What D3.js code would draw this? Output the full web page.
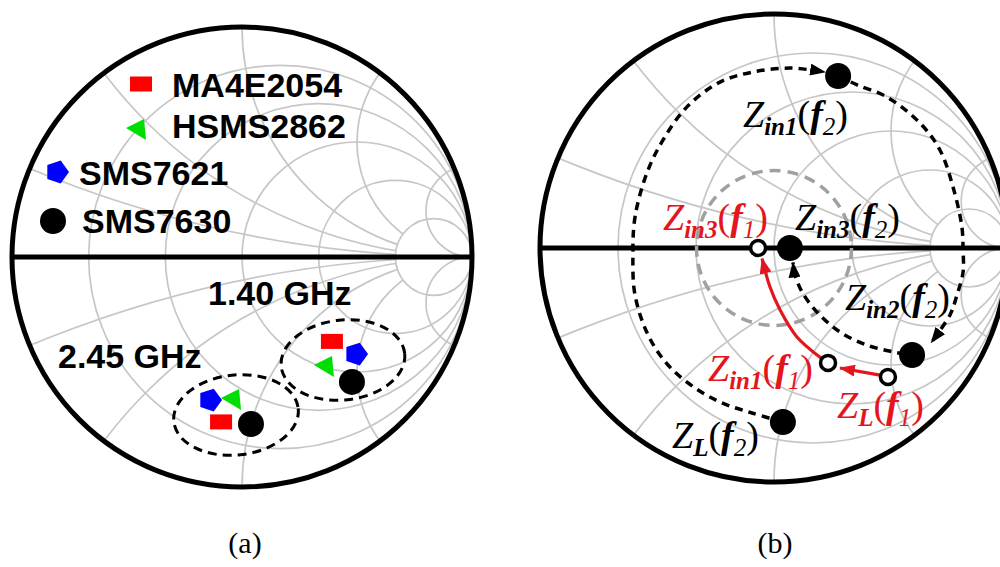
<!DOCTYPE html>
<html>
<head>
<meta charset="utf-8">
<script src="https://cdn.jsdelivr.net/npm/d3@7"></script>
<style>
  body { margin: 0; background: #fff; }
  svg { display: block; }
  .grid { fill: none; stroke: #c6c6c6; stroke-width: 1.7; }
  .border { fill: none; stroke: #000; stroke-width: 5; }
  .axis { stroke: #000; stroke-width: 5; }
  .legend, .freq { font-family: "Liberation Sans", Arial, sans-serif; font-weight: bold; font-size: 34px; fill: #000; }
  .zlab { font-family: "Liberation Serif", "Times New Roman", serif; font-style: italic; font-size: 38px; }
  .caption { font-family: "Liberation Serif", "Times New Roman", serif; font-size: 30px; fill: #000; }
  .group { fill: none; stroke: #000; stroke-width: 3; stroke-dasharray: 9 6; }
  .path2 { fill: none; stroke: #000; stroke-width: 3.5; stroke-dasharray: 8 6; }
  .path1 { fill: none; stroke: #e3161e; stroke-width: 3.2; }
  .vswr { fill: none; stroke: #a0a0a0; stroke-width: 3.5; stroke-dasharray: 11 7; }
</style>
</head>
<body>
<svg id="canvas" width="1000" height="567"></svg>
<script>
// ---------- data ----------
// Smith chart grid: normalized resistance circles and reactance arcs
const rCircles = [0.2, 0.5, 1, 2, 5];
const xArcs = [0.2, 0.5, 1, 2, 5];
const innerR = 5;   // lines below this value stop at the r = 5 circle

// (a) diode impedances, reflection coefficient [re, im]
const devices = ["MA4E2054", "HSMS2862", "SMS7621", "SMS7630"];
const devShape = ["rect", "tri", "penta", "dot"];
const devColor = ["#ff0000", "#00dd00", "#0000ff", "#000000"];
const freqs = ["1.40 GHz", "2.45 GHz"];
const gamma140 = [[0.391, -0.367], [0.365, -0.474], [0.496, -0.422], [0.478, -0.543]];
const gamma245 = [[-0.091, -0.717], [-0.039, -0.617], [-0.139, -0.622], [0.039, -0.726]];
// ellipse around each group: center re, im, half-width, half-height (gamma units)
const groups = [[0.439, -0.448, 0.27, 0.174], [-0.026, -0.687, 0.272, 0.174]];

// (b) matching trajectory, reflection coefficient [re, im]
const f2Points = [
  { name: "in1", g: [0.274, 0.735] },
  { name: "in3", g: [0.068, 0] },
  { name: "in2", g: [0.590, -0.457] },
  { name: "L",   g: [0.038, -0.744] }
];
const f1Points = [
  { name: "in3", g: [-0.068, 0] },
  { name: "in1", g: [0.231, -0.491] },
  { name: "L",   g: [0.487, -0.551] }
];
const f2Paths = [
  [[0.038, -0.744], [-0.094, -0.705], [-0.222, -0.662], [-0.338, -0.598], [-0.453, -0.500], [-0.538, -0.372],
   [-0.594, -0.201], [-0.603, -0.030], [-0.594, 0.132], [-0.543, 0.321], [-0.474, 0.462], [-0.372, 0.603],
   [-0.231, 0.709], [-0.090, 0.752], [0.068, 0.769], [0.218, 0.752]],
  [[0.274, 0.735], [0.355, 0.697], [0.483, 0.645], [0.624, 0.534], [0.709, 0.419], [0.765, 0.261],
   [0.803, 0.090], [0.808, -0.009], [0.808, -0.103], [0.782, -0.201], [0.752, -0.286], [0.672, -0.404]],
  [[0.560, -0.453], [0.509, -0.444], [0.397, -0.415], [0.282, -0.359], [0.184, -0.274], [0.120, -0.188],
   [0.090, -0.115], [0.081, -0.062]]
];
const f1Paths = [
  [[0.453, -0.543], [0.282, -0.513]],
  [[0.201, -0.470], [0.098, -0.380], [0.026, -0.265], [-0.017, -0.167], [-0.051, -0.045]]
];
const vswrRadius = 0.331;

const svg = d3.select("#canvas");
const defs = svg.append("defs");

function addArrow(id, color) {
  defs.append("marker")
    .attr("id", id)
    .attr("viewBox", "0 0 16 12")
    .attr("refX", 15).attr("refY", 6)
    .attr("markerWidth", 16).attr("markerHeight", 12)
    .attr("markerUnits", "userSpaceOnUse")
    .attr("orient", "auto")
    .append("path").attr("d", "M0,0 L16,6 L0,12 Z").attr("fill", color);
}
addArrow("arrowK", "#000");
addArrow("arrowR", "#e3161e");

function circlePath(cx, cy, r) {
  return `M${cx - r},${cy} a${r},${r} 0 1,0 ${2 * r},0 a${r},${r} 0 1,0 ${-2 * r},0 Z`;
}

// ---------- Smith chart frame ----------
function smith(id, cx, cy, R) {
  const x = d3.scaleLinear().domain([-1, 1]).range([cx - R, cx + R]);
  const y = d3.scaleLinear().domain([-1, 1]).range([cy + R, cy - R]);
  const k = x(1) - x(0);

  // full disk, and disk minus the small r = innerR bubble
  defs.append("clipPath").attr("id", "clip-" + id)
    .append("circle").attr("cx", cx).attr("cy", cy).attr("r", R);
  defs.append("clipPath").attr("id", "clipo-" + id)
    .append("path").attr("clip-rule", "evenodd")
    .attr("d", circlePath(cx, cy, R) + circlePath(x(innerR / (1 + innerR)), y(0), k / (1 + innerR)));

  const g = svg.append("g");
  const gridIn = g.append("g").attr("clip-path", `url(#clip-${id})`);
  const gridOut = g.append("g").attr("clip-path", `url(#clipo-${id})`);

  rCircles.forEach(r => {
    (r >= innerR ? gridIn : gridOut).append("circle").attr("class", "grid")
      .attr("cx", x(r / (1 + r))).attr("cy", y(0)).attr("r", k / (1 + r));
  });
  xArcs.forEach(v => {
    [v, -v].forEach(s => {
      (v >= innerR ? gridIn : gridOut).append("circle").attr("class", "grid")
        .attr("cx", x(1)).attr("cy", y(1 / s)).attr("r", k / v);
    });
  });

  g.append("circle").attr("class", "border").attr("cx", cx).attr("cy", cy).attr("r", R);
  g.append("line").attr("class", "axis")
    .attr("x1", x(-1)).attr("x2", x(1)).attr("y1", y(0)).attr("y2", y(0));

  return { g, x, y, k };
}

// ---------- symbols ----------
function symbol(g, shape, px, py, color) {
  if (shape === "rect") {
    g.append("rect").attr("x", px - 11).attr("y", py - 7.5).attr("width", 22).attr("height", 15).attr("fill", color);
  } else if (shape === "tri") {
    g.append("path").attr("d", `M${px - 12},${py - 1} L${px + 6},${py - 10} L${px + 8},${py + 11} Z`).attr("fill", color);
  } else if (shape === "penta") {
    const pts = d3.range(5).map(i => {
      const a = i * 2 * Math.PI / 5;
      return [px + 12 * Math.cos(a), py + 12 * Math.sin(a)];
    });
    g.append("polygon").attr("points", pts.map(p => p.join(",")).join(" ")).attr("fill", color);
  } else {
    g.append("circle").attr("cx", px).attr("cy", py).attr("r", 13).attr("fill", color);
  }
}

// ---------- (a) ----------
const A = smith("a", 242, 257, 230);

const legendPos = [[141, 84, 172, 97], [138, 129, 172, 138], [57, 172, 79, 185], [53, 221, 82, 233]];
devices.forEach((d, i) => {
  const p = legendPos[i];
  symbol(A.g, devShape[i], p[0], p[1], devColor[i]);
  A.g.append("text").attr("class", "legend").attr("x", p[2]).attr("y", p[3]).text(d);
});

groups.forEach(e => {
  A.g.append("ellipse").attr("class", "group")
    .attr("cx", A.x(e[0])).attr("cy", A.y(e[1]))
    .attr("rx", e[2] * A.k).attr("ry", e[3] * A.k)
    .attr("transform", `rotate(-6, ${A.x(e[0])}, ${A.y(e[1])})`);
});

[gamma140, gamma245].forEach(set => {
  set.forEach((gm, i) => symbol(A.g, devShape[i], A.x(gm[0]), A.y(gm[1]), devColor[i]));
});

A.g.append("text").attr("class", "freq").attr("x", 208).attr("y", 305).text(freqs[0]);
A.g.append("text").attr("class", "freq").attr("x", 58).attr("y", 368).text(freqs[1]);

// ---------- (b) ----------
const B = smith("b", 774, 248, 234);
const line = d3.line().x(d => B.x(d[0])).y(d => B.y(d[1])).curve(d3.curveCatmullRom.alpha(0.5));

B.g.append("circle").attr("class", "vswr")
  .attr("cx", B.x(0)).attr("cy", B.y(0)).attr("r", vswrRadius * B.k);

f2Paths.forEach(p => {
  B.g.append("path").attr("class", "path2").attr("d", line(p)).attr("marker-end", "url(#arrowK)");
});
f1Paths.forEach(p => {
  B.g.append("path").attr("class", "path1").attr("d", line(p)).attr("marker-end", "url(#arrowR)");
});

f2Points.forEach(p => {
  B.g.append("circle").attr("cx", B.x(p.g[0])).attr("cy", B.y(p.g[1])).attr("r", 13).attr("fill", "#000");
});
f1Points.forEach(p => {
  B.g.append("circle").attr("cx", B.x(p.g[0])).attr("cy", B.y(p.g[1])).attr("r", 7.5)
    .attr("fill", "#fff").attr("stroke", "#000").attr("stroke-width", 3.5);
});

// labels: Z_sub(f_n)
const labels = [
  { sub: "in1", f: "2", x: 743, y: 127, c: "#000" },
  { sub: "in3", f: "1", x: 663, y: 230, c: "#e3161e" },
  { sub: "in3", f: "2", x: 795, y: 230, c: "#000" },
  { sub: "in2", f: "2", x: 845, y: 310, c: "#000" },
  { sub: "in1", f: "1", x: 708, y: 381, c: "#e3161e" },
  { sub: "L",   f: "1", x: 837, y: 418, c: "#e3161e" },
  { sub: "L",   f: "2", x: 672, y: 448, c: "#000" }
];
labels.forEach(l => {
  const t = B.g.append("text").attr("class", "zlab").attr("x", l.x).attr("y", l.y).attr("fill", l.c);
  t.append("tspan").text("Z");
  t.append("tspan").attr("dy", 8).attr("font-size", 25).attr("font-weight", "bold").text(l.sub);
  t.append("tspan").attr("dy", -8).attr("font-style", "normal").text("(");
  t.append("tspan").attr("font-weight", "bold").text("f");
  t.append("tspan").attr("dy", 8).attr("font-size", 25).text(l.f);
  t.append("tspan").attr("dy", -8).attr("font-style", "normal").text(")");
});

// captions
svg.append("text").attr("class", "caption").attr("x", 245).attr("y", 553).attr("text-anchor", "middle").text("(a)");
svg.append("text").attr("class", "caption").attr("x", 775).attr("y", 553).attr("text-anchor", "middle").text("(b)");
</script>
</body>
</html>
